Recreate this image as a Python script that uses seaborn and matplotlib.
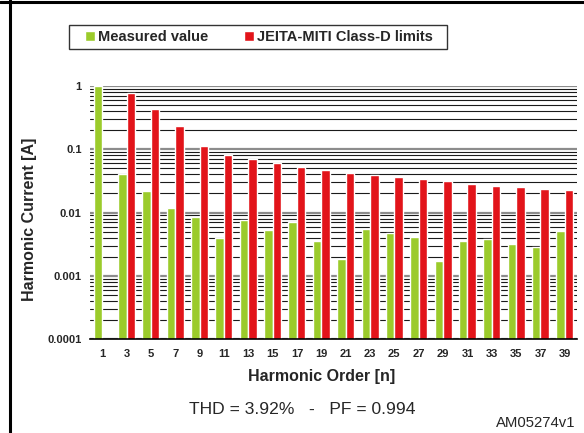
import numpy as np
import pandas as pd
import matplotlib
matplotlib.use("Agg")
import matplotlib.pyplot as plt
from matplotlib.lines import Line2D
from matplotlib.patches import Rectangle
from matplotlib.ticker import LogLocator, FixedLocator, NullFormatter
import seaborn as sns

# harmonic orders and currents (A)
harmonics = [1, 3, 5, 7, 9, 11, 13, 15, 17, 19, 21, 23, 25, 27, 29, 31, 33, 35, 37, 39]
measured = [1.0, 0.0406, 0.0219, 0.0119, 0.0086, 0.0040, 0.0076, 0.0053, 0.0071, 0.00354,
            0.00184, 0.0055, 0.0047, 0.0041, 0.00171, 0.00354, 0.0038, 0.0032, 0.00285, 0.0051]
limits = [np.nan, 0.775, 0.433, 0.233, 0.1125, 0.081, 0.069, 0.060, 0.0524, 0.047,
          0.042, 0.039, 0.0364, 0.0339, 0.0315, 0.0282, 0.0262, 0.0253, 0.0235, 0.0227]
series_names = ["Measured value", "JEITA-MITI Class-D limits"]
ytick_vals = [0.0001, 0.001, 0.01, 0.1, 1]
ytick_labels = ["0.0001", "0.001", "0.01", "0.1", "1"]

df = pd.DataFrame({"harmonic": harmonics, series_names[0]: measured, series_names[1]: limits})
long_df = df.melt(id_vars="harmonic", var_name="series", value_name="current")

sns.set_style("white")
plt.rcParams["font.family"] = ["Liberation Sans", "DejaVu Sans"]

fig = plt.figure(figsize=(5.84, 4.33), dpi=100)
W, H = 584, 433
ax = fig.add_axes([90 / W, (H - 339) / H, (577 - 90) / W, (339 - 86) / H])

sns.barplot(data=long_df, x="harmonic", y="current", hue="series", order=harmonics,
            hue_order=series_names, palette=["#9BCB2B", "#E2141A"], width=0.7,
            saturation=1, errorbar=None, ax=ax)

ax.set_yscale("log")
ax.set_ylim(1e-4, 1)
ax.set_xlim(-0.5, len(harmonics) - 0.5)

# grid lines on every decade step
ax.yaxis.set_major_locator(FixedLocator(ytick_vals))
ax.set_yticklabels(ytick_labels)
ax.yaxis.set_minor_locator(LogLocator(base=10, subs=np.arange(2, 10)))
ax.yaxis.set_minor_formatter(NullFormatter())
ax.yaxis.grid(True, which="minor", color="#1a1a1a", lw=0.8)
ax.yaxis.grid(True, which="major", color="#8c8c8c", lw=1.6)
ax.set_axisbelow(True)

ax.xaxis.set_minor_locator(FixedLocator(np.arange(-0.5, len(harmonics), 1.0)))
ax.tick_params(axis="x", which="major", length=0, pad=7, labelsize=8)
ax.tick_params(axis="x", which="minor", length=4, width=1, color="black", direction="out")
ax.tick_params(axis="y", which="major", length=2, width=1, color="black", pad=4, labelsize=8)
ax.tick_params(axis="y", which="minor", length=0)
for lab in ax.get_xticklabels() + ax.get_yticklabels():
    lab.set_fontweight("bold")

for side in ["left", "right", "top"]:
    ax.spines[side].set_visible(False)
ax.spines["bottom"].set_color("black")
ax.spines["bottom"].set_linewidth(1.2)

ax.set_xlabel("")
ax.set_ylabel("")

handles, labels = ax.get_legend_handles_labels()
ax.get_legend().remove()
leg = fig.legend(handles, labels, loc="center", bbox_to_anchor=(259 / W, 1 - 37 / H),
                 ncol=2, frameon=False, handlelength=0.68, handleheight=0.68,
                 handletextpad=0.25, columnspacing=2.4, borderpad=0, borderaxespad=0,
                 prop={"weight": "bold", "size": 10.5})
# legend box drawn separately, it is wider than its entries
fig.add_artist(Rectangle((69 / W, 1 - 49 / H), (447 - 69) / W, 24 / H, fill=False,
                         edgecolor="#333333", lw=1.0, transform=fig.transFigure))

fig.text(322 / W, 1 - 377 / H, "Harmonic Order [n]", ha="center", va="center",
         fontsize=11.5, fontweight="bold")
fig.text(30 / W, 1 - 219.5 / H, "Harmonic Current [A]", ha="center", va="center",
         rotation=90, fontsize=11.5, fontweight="bold")
fig.text(302 / W, 1 - 410 / H, "THD = 3.92%   -   PF = 0.994", ha="center", va="center",
         fontsize=12.6)
fig.text(536 / W, 1 - 423 / H, "AM05274v1", ha="center", va="center", fontsize=10.7)

# page frame: top and left rules
fig.add_artist(Line2D([0, 1], [1 - 1.5 / H, 1 - 1.5 / H], color="black", lw=2.2,
                      transform=fig.transFigure))
fig.add_artist(Line2D([9.5 / W, 9.5 / W], [0, 1], color="black", lw=2.2,
                      transform=fig.transFigure))

fig.savefig("out.png", dpi=100)
